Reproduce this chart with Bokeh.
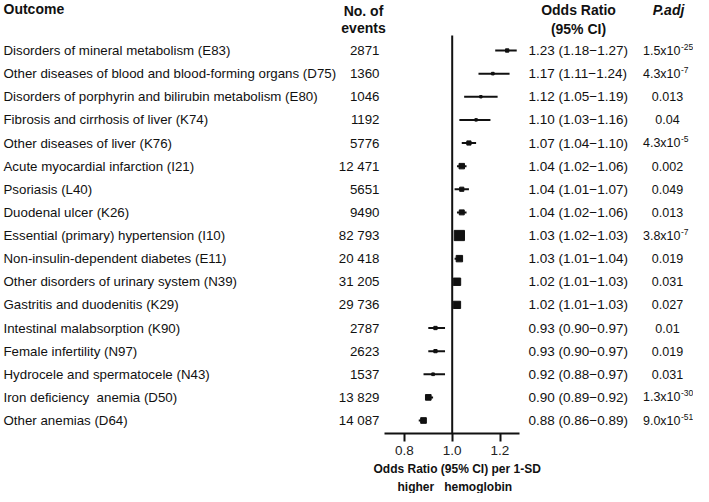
from bokeh.plotting import figure
from bokeh.models import Range1d, LinearAxis, FixedTicker, NumeralTickFormatter, Title, ColumnDataSource
from bokeh.core.properties import value
from bokeh.embed import file_html
from bokeh.resources import INLINE

# ---------------- data ----------------
outcomes = [
    "Disorders of mineral metabolism (E83)",
    "Other diseases of blood and blood-forming organs (D75)",
    "Disorders of porphyrin and bilirubin metabolism (E80)",
    "Fibrosis and cirrhosis of liver (K74)",
    "Other diseases of liver (K76)",
    "Acute myocardial infarction (I21)",
    "Psoriasis (L40)",
    "Duodenal ulcer (K26)",
    "Essential (primary) hypertension (I10)",
    "Non-insulin-dependent diabetes  (E11)",
    "Other disorders of urinary system (N39)",
    "Gastritis and duodenitis (K29)",
    "Intestinal malabsorption (K90)",
    "Female infertility (N97)",
    "Hydrocele and spermatocele (N43)",
    "Iron deficiency\u00a0 anemia (D50)",
    "Other anemias (D64)",
]
events = [2871, 1360, 1046, 1192, 5776, 12471, 5651, 9490, 82793, 20418,
          31205, 29736, 2787, 2623, 1537, 13829, 14087]
odds_ratio = [1.23, 1.17, 1.12, 1.10, 1.07, 1.04, 1.04, 1.04, 1.03, 1.03,
              1.02, 1.02, 0.93, 0.93, 0.92, 0.90, 0.88]
ci_low = [1.18, 1.11, 1.05, 1.03, 1.04, 1.02, 1.01, 1.02, 1.02, 1.01,
          1.01, 1.01, 0.90, 0.90, 0.88, 0.89, 0.86]
ci_high = [1.27, 1.24, 1.19, 1.16, 1.10, 1.06, 1.07, 1.06, 1.03, 1.04,
           1.03, 1.03, 0.97, 0.97, 0.97, 0.92, 0.89]
p_adj = ["1.5x10^-25", "4.3x10^-7", "0.013", "0.04", "4.3x10^-5", "0.002",
         "0.049", "0.013", "3.8x10^-7", "0.019", "0.031", "0.027", "0.01",
         "0.019", "0.031", "1.3x10^-30", "9.0x10^-51"]
x_ticks = [0.8, 1.0, 1.2]

# ---------------- derived ----------------
n = len(outcomes)
rows = list(range(n))
events_txt = [f"{e:,}".replace(",", " ") if e >= 10000 else str(e) for e in events]
or_txt = [f"{o:.2f} ({l:.2f}\u2212{h:.2f})" for o, l, h in zip(odds_ratio, ci_low, ci_high)]
sizes = [0.235 * e ** (1 / 3) for e in events]
p_plain = [p if "^" not in p else "" for p in p_adj]
p_base = [p.split("^")[0] if "^" in p else "" for p in p_adj]
p_exp = [p.split("^")[1] if "^" in p else "" for p in p_adj]

src = ColumnDataSource(dict(
    y=rows, outcome=outcomes, ev=events_txt, ortxt=or_txt, orv=odds_ratio,
    lo=ci_low, hi=ci_high, size=sizes, pplain=p_plain, pbase=p_base, pexp=p_exp,
))

FONT = value("Liberation Sans")
INK = "#111111"

# layout constants (pixels of the picture)
ROW0, ROWPX = 50.0, 23.125
TOP, BOTTOM, LEFT, RIGHT = 0, 433, 0, 693
PX_PER_OR, OR1_X = 239.0, 451.7

x_start = 1.0 - (OR1_X - LEFT) / PX_PER_OR
x_end = 1.0 + (RIGHT - OR1_X) / PX_PER_OR
y_start = (BOTTOM - ROW0) / ROWPX
y_end = (TOP - ROW0) / ROWPX

p = figure(frame_width=RIGHT - LEFT, frame_height=BOTTOM - TOP,
           x_range=Range1d(x_start, x_end), y_range=Range1d(y_start, y_end),
           x_axis_type=None, y_axis_type=None, toolbar_location=None,
           output_backend="svg", min_border=0, outline_line_color=None,
           background_fill_color="white", border_fill_color="white")
p.grid.visible = False
p.extra_x_ranges = {"px": Range1d(LEFT, RIGHT)}
p.extra_y_ranges = {"py": Range1d(BOTTOM, TOP)}

# axis
ax = LinearAxis(ticker=FixedTicker(ticks=x_ticks), formatter=NumeralTickFormatter(format="0.0"),
                bounds=(1.0 - (OR1_X - 384) / PX_PER_OR, 1.0 + (519 - OR1_X) / PX_PER_OR))
ax.axis_line_width = 2
ax.axis_line_color = INK
ax.major_tick_line_width = 2
ax.major_tick_line_color = INK
ax.major_tick_out = 8
ax.major_tick_in = 0
ax.minor_tick_line_color = None
ax.major_label_text_font = "Liberation Sans"
ax.major_label_text_font_size = "13.5px"
ax.major_label_text_color = "#222222"
ax.major_label_standoff = 4
p.add_layout(ax, "below")

t1 = Title(text="Odds Ratio (95% CI) per 1-SD", align="left", offset=373,
           text_font="Liberation Sans", text_font_size="12px", text_font_style="bold",
           text_color=INK, standoff=4)
t2 = Title(text="higher\u00a0\u00a0 hemoglobin", align="left", offset=397,
           text_font="Liberation Sans", text_font_size="12px", text_font_style="bold",
           text_color=INK, standoff=0)
p.add_layout(t1, "below")
p.add_layout(t2, "below")

# reference line at OR = 1
p.segment(x0=[1.0], y0=[35], x1=[1.0], y1=[BOTTOM], y_range_name="py",
          line_color=INK, line_width=2)

# CI lines and squares
p.segment(x0="lo", y0="y", x1="hi", y1="y", source=src, line_color=INK, line_width=2)
p.scatter(x="orv", y="y", size="size", marker="square", source=src,
          fill_color=INK, line_color=INK)

# text columns
common = dict(text_font=FONT, text_color=INK, text_baseline="middle", x_range_name="px")
p.text(x=3, y="y", text="outcome", source=src, text_font_size="13.3px", text_align="left", **common)
p.text(x=379, y="y", text="ev", source=src, text_font_size="13.3px", text_align="right", **common)
p.text(x=528, y="y", text="ortxt", source=src, text_font_size="13.5px", text_align="left", **common)
p.text(x=667, y="y", text="pplain", source=src, text_font_size="12.5px", text_align="center", **common)
p.text(x=680, y="y", text="pbase", source=src, text_font_size="12.5px", text_align="right", **common)
p.text(x=680.5, y="y", text="pexp", source=src, text_font_size="8.5px", text_align="left",
       y_offset=-4, **common)

# headers
hdr = dict(text_font=FONT, text_color=INK, text_baseline="middle", text_font_size="14px",
           text_font_style="bold", x_range_name="px", y_range_name="py")
p.text(x=[3], y=[8], text=["Outcome"], text_align="left", **hdr)
p.text(x=[363, 363], y=[10, 27], text=["No. of", "events"], text_align="center", **hdr)
p.text(x=[578, 578], y=[9, 28], text=["Odds Ratio", "(95% CI)"], text_align="center", **hdr)
hdr_i = dict(hdr)
hdr_i["text_font_style"] = "bold italic"
p.text(x=[668], y=[9], text=["P.adj"], text_align="center", **hdr_i)

open("out.html", "w").write(file_html(p, INLINE))
